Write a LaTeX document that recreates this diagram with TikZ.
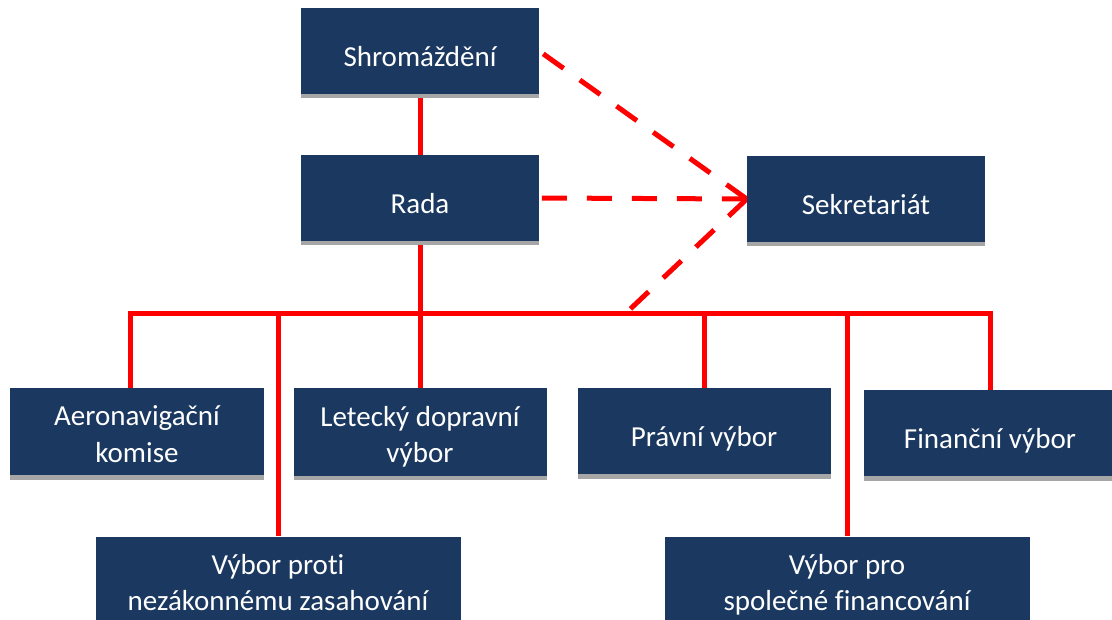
\documentclass[tikz,border=0pt]{standalone}
\usepackage{fontspec}
\setmainfont{Carlito}[Ligatures=NoCommon]
\usepackage{xcolor}
\usetikzlibrary{positioning,calc,shadows,backgrounds}
\definecolor{boxblue}{RGB}{26,56,96}
\definecolor{boxshadow}{RGB}{166,166,166}
\definecolor{linkred}{RGB}{255,0,0}
\tikzset{
	unit/.style={fill=boxblue, text=white, minimum height=86pt, inner sep=0pt, align=center,
		font=\fontsize{29}{36}\selectfont, text height=31pt, text depth=0pt,
		drop shadow={shadow xshift=0pt, shadow yshift=-4.5pt, fill=boxshadow, opacity=1}},
	unit2/.style={unit, minimum height=87pt, text height=61pt, text depth=0pt},
	link/.style={draw=linkred, line width=5pt},
	dlink/.style={link, dash pattern=on 25pt off 20pt},
}

\begin{document}
\begin{tikzpicture}[x=1pt, y=-1pt]
			\useasboundingbox (0,0) rectangle (1112,620);
			\clip (0,0) rectangle (1112,620);
			\node [unit, minimum width=238pt] (shrom) at (420,51) {Shromáždění};
			\node [unit, minimum width=238pt] (rada) at (420,198) {Rada};
			\node [unit, minimum width=238pt] (sekr) at (866,199) {Sekretariát};
			\node [unit2, minimum width=254pt] (aero) at (137,431.5) {Aeronavigační\\komise};
			\node [unit2, minimum width=253pt] (letec) at (420,432) {Letecký dopravní\\výbor};
			\node [unit, minimum width=253pt] (pravni) at (704,431) {Právní výbor};
			\node [unit, minimum width=253pt] (financ) at (990,433) {Finanční výbor};
			\node [unit2, minimum width=365pt] (proti) at (278,580) {Výbor proti\\nezákonnému zasahování};
			\node [unit2, minimum width=365pt] (spolec) at (847,580) {Výbor pro\\společné financování};
			\coordinate (busL) at (130,314);
			\coordinate (busR) at (990,314);
			\coordinate (busD) at (625,314);
			\begin{scope}[on background layer]
				\draw [link] (aero.north -| busL) -- (busL) -- (busR) -- (financ.north);
				\draw [link] (shrom.south) -- (rada.north);
				\draw [link] (rada.south) -- (letec.north);
				\draw [link] (proti.north) -- (proti.north |- busL);
				\draw [link] (pravni.north) -- (pravni.north |- busL);
				\draw [link] (spolec.north) -- (spolec.north |- busL);
				\draw [dlink] (sekr.west) -- (shrom.east);
				\draw [dlink] (sekr.west) -- (rada.east);
				\draw [dlink] (sekr.west) -- (busD);
			\end{scope}
		\end{tikzpicture}
\end{document}
